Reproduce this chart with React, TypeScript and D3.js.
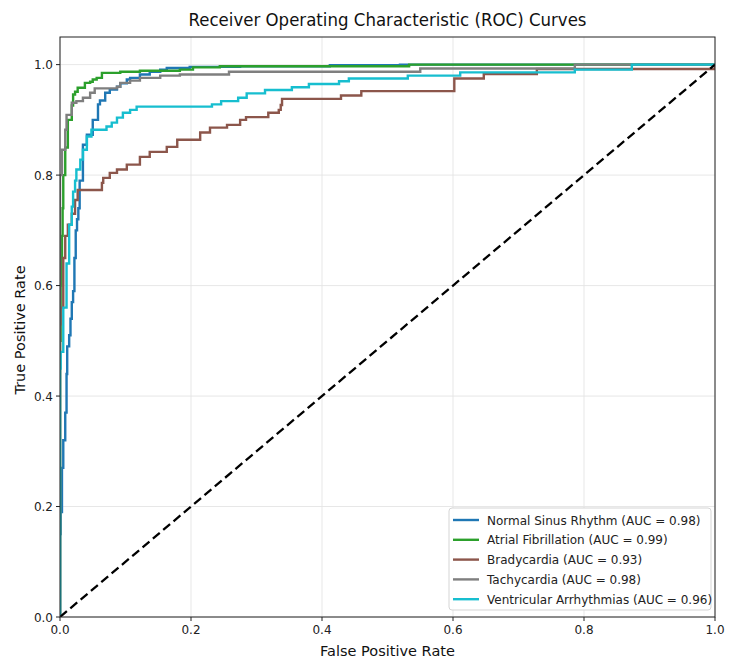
import * as d3 from 'd3';

// class names, AUC scores and colours (matplotlib tab10 picks)
const classNames = ['Normal Sinus Rhythm', 'Atrial Fibrillation', 'Bradycardia', 'Tachycardia', 'Ventricular Arrhythmias'];
const aucValues = [0.98, 0.99, 0.93, 0.98, 0.96];
const colors = ['#1f77b4', '#2ca02c', '#8c564b', '#7f7f7f', '#17becf'];

// ROC corner points [fpr, tpr]
const normalSinusRoc = [
  [0, 0], [0, 0.15], [0.001, 0.19], [0.003, 0.27], [0.005, 0.32], [0.008, 0.37], [0.010, 0.44],
  [0.011, 0.49], [0.014, 0.51], [0.016, 0.54], [0.018, 0.57], [0.020, 0.59], [0.022, 0.65],
  [0.024, 0.70], [0.026, 0.72], [0.028, 0.74], [0.030, 0.79], [0.035, 0.855], [0.041, 0.873],
  [0.050, 0.90], [0.058, 0.928], [0.061, 0.935], [0.069, 0.949], [0.076, 0.955], [0.087, 0.96],
  [0.092, 0.966], [0.102, 0.973], [0.107, 0.976], [0.122, 0.982], [0.137, 0.987], [0.153, 0.991],
  [0.163, 0.994], [0.198, 0.996], [0.275, 0.997], [0.412, 0.999], [0.519, 1.0], [1, 1],
];
const atrialFibRoc = [
  [0, 0], [0, 0.5], [0.001, 0.6], [0.002, 0.65], [0.003, 0.69], [0.004, 0.74], [0.005, 0.80],
  [0.008, 0.85], [0.012, 0.90], [0.018, 0.926], [0.020, 0.946], [0.023, 0.951], [0.027, 0.958],
  [0.038, 0.967], [0.046, 0.969], [0.050, 0.973], [0.056, 0.976], [0.064, 0.985], [0.092, 0.987],
  [0.122, 0.989], [0.183, 0.991], [0.203, 0.995], [0.244, 0.997], [0.533, 1.0], [1, 1],
];
const bradycardiaRoc = [
  [0, 0], [0, 0.53], [0.001, 0.56], [0.005, 0.65], [0.008, 0.69], [0.012, 0.71], [0.018, 0.73],
  [0.023, 0.755], [0.027, 0.773], [0.064, 0.786], [0.066, 0.795], [0.076, 0.804], [0.087, 0.81],
  [0.102, 0.819], [0.122, 0.833], [0.137, 0.842], [0.163, 0.851], [0.179, 0.864], [0.214, 0.877],
  [0.229, 0.886], [0.255, 0.891], [0.275, 0.900], [0.284, 0.905], [0.318, 0.913], [0.334, 0.918],
  [0.337, 0.927], [0.339, 0.938], [0.429, 0.944], [0.460, 0.952], [0.602, 0.975], [0.647, 0.983],
  [0.728, 0.992], [1, 1],
];
const tachycardiaRoc = [
  [0, 0], [0, 0.80], [0.003, 0.846], [0.008, 0.882], [0.010, 0.909], [0.018, 0.931], [0.025, 0.934],
  [0.035, 0.940], [0.046, 0.949], [0.053, 0.957], [0.087, 0.96], [0.092, 0.967], [0.107, 0.971],
  [0.122, 0.976], [0.153, 0.98], [0.183, 0.982], [0.258, 0.987], [0.550, 0.993], [0.786, 1.0], [1, 1],
];
const ventricularRoc = [
  [0, 0], [0, 0.45], [0.001, 0.48], [0.005, 0.56], [0.010, 0.64], [0.014, 0.71], [0.018, 0.743],
  [0.020, 0.77], [0.023, 0.79], [0.025, 0.81], [0.031, 0.828], [0.035, 0.846], [0.041, 0.87],
  [0.048, 0.882], [0.071, 0.888], [0.079, 0.895], [0.087, 0.904], [0.096, 0.913], [0.107, 0.918],
  [0.117, 0.924], [0.232, 0.928], [0.246, 0.934], [0.272, 0.940], [0.285, 0.948], [0.313, 0.954],
  [0.354, 0.959], [0.380, 0.965], [0.426, 0.970], [0.441, 0.975], [0.531, 0.980], [0.611, 0.986],
  [0.786, 0.991], [0.873, 1.0], [1, 1],
];
const rocCurves = [normalSinusRoc, atrialFibRoc, bradycardiaRoc, tachycardiaRoc, ventricularRoc];

const xTicks = [0, 0.2, 0.4, 0.6, 0.8, 1.0];
const yTicks = [0, 0.2, 0.4, 0.6, 0.8, 1.0];

const W = 729;
const H = 658;
const left = 60, right = 715, top = 37, bottom = 617;
const font = 'DejaVu Sans, sans-serif';

export default function App() {
  const x = d3.scaleLinear().domain([0, 1]).range([left, right]);
  const y = d3.scaleLinear().domain([0, 1.05]).range([bottom, top]);

  const line = d3.line<number[]>()
    .x((d) => x(d[0]))
    .y((d) => y(d[1]))
    .curve(d3.curveStepAfter);

  const legX = 449, legY = 508, legW = 262, legH = 102, rowH = 19.8;

  return (
    <svg width={W} height={H} style={{ position: 'absolute', left: 0, top: 0, background: '#fff' }}>
      <defs>
        <clipPath id="plot">
          <rect x={left} y={top} width={right - left} height={bottom - top} />
        </clipPath>
      </defs>

      <text x={(left + right) / 2} y={26} textAnchor="middle" fontFamily={font} fontSize={18.5}
        textLength={398} lengthAdjust="spacingAndGlyphs" fill="#111">
        Receiver Operating Characteristic (ROC) Curves
      </text>

      {/* grid */}
      <g stroke="#e4e4e4" strokeWidth={0.9}>
        {xTicks.map((t) => <line key={'gx' + t} x1={x(t)} x2={x(t)} y1={top} y2={bottom} />)}
        {yTicks.map((t) => <line key={'gy' + t} x1={left} x2={right} y1={y(t)} y2={y(t)} />)}
      </g>

      <g clipPath="url(#plot)" fill="none">
        {rocCurves.map((pts, i) => (
          <path key={classNames[i]} d={line(pts) || ''} stroke={colors[i]} strokeWidth={2.4} />
        ))}
        <line x1={x(0)} y1={y(0)} x2={x(1)} y2={y(1)} stroke="#000" strokeWidth={2.3} strokeDasharray="9,4.5" />
      </g>

      {/* spines */}
      <rect x={left} y={top} width={right - left} height={bottom - top} fill="none" stroke="#222" strokeWidth={1} />

      {/* ticks */}
      <g fontFamily={font} fontSize={12} fill="#222">
        {xTicks.map((t) => (
          <g key={'xt' + t}>
            <line x1={x(t)} x2={x(t)} y1={bottom} y2={bottom + 4} stroke="#222" />
            <text x={x(t)} y={bottom + 17} textAnchor="middle">{t.toFixed(1)}</text>
          </g>
        ))}
        {yTicks.map((t) => (
          <g key={'yt' + t}>
            <line x1={left - 4} x2={left} y1={y(t)} y2={y(t)} stroke="#222" />
            <text x={left - 7} y={y(t) + 4.5} textAnchor="end">{t.toFixed(1)}</text>
          </g>
        ))}
      </g>

      <text x={(left + right) / 2} y={656} textAnchor="middle" fontFamily={font} fontSize={14.5} fill="#111">
        False Positive Rate
      </text>
      <text transform={`translate(25, ${(top + bottom) / 2 + 3}) rotate(-90)`} textAnchor="middle"
        fontFamily={font} fontSize={14.5} fill="#111">
        True Positive Rate
      </text>

      {/* legend */}
      <g>
        <rect x={legX} y={legY} width={legW} height={legH} rx={3} fill="#fff" fillOpacity={0.85} stroke="#d5d5d5" />
        {classNames.map((name, i) => {
          const ly = legY + 12 + i * rowH;
          return (
            <g key={'lg' + name}>
              <line x1={legX + 4} x2={legX + 30} y1={ly} y2={ly} stroke={colors[i]} strokeWidth={2.4} />
              <text x={legX + 38} y={ly + 4.5} fontFamily={font} fontSize={12} fill="#222">
                {`${name} (AUC = ${aucValues[i].toFixed(2)})`}
              </text>
            </g>
          );
        })}
      </g>
    </svg>
  );
}
